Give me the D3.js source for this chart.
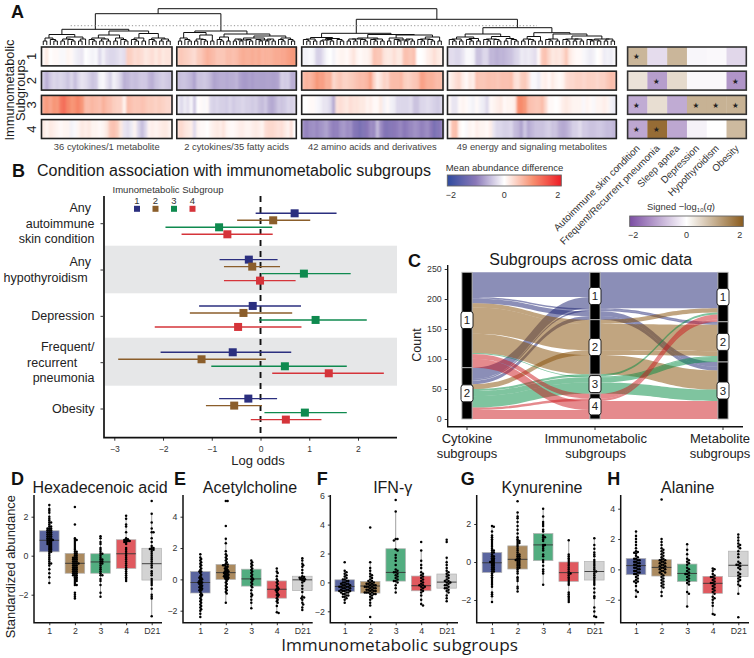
<!DOCTYPE html>
<html><head><meta charset="utf-8">
<script src="https://cdn.jsdelivr.net/npm/d3@7"></script>
<style>
html,body{margin:0;padding:0;background:#fff}
svg{display:block;font-family:"Liberation Sans",Arial,sans-serif}
text{fill:#222}
</style></head><body>
<svg id="c" width="754" height="658" viewBox="0 0 754 658"></svg>
<script>
/* ---------- DATA ---------- */
const blockLabels=["36 cytokines/1 metabolite","2 cytokines/35 fatty acids","42 amino acids and derivatives","49 energy and signaling metabolites"];
const subgroupIds=["1","2","3","4"];
const heatBlock1=[
[.05,.2,0,.05,.05,-.05,-.05,.1,.05,-.1,-.15,-.2,0,-.05,-.1,-.05,-.3,-.1,-.25,-.3,-.3,-.25,-.2,-.25,.45,.4,.3,.35,.3,.2,.25,.3,.2,.3,.2,.25,.25],
[-.4,-.6,-.4,-.3,-.35,-.3,-.35,-.45,-.3,-.5,-.3,-.2,-.25,-.35,-.45,-.4,-.1,-.05,-.2,-.35,-.1,-.2,-.35,-.6,-.55,-.45,-.5,-.45,-.4,-.4,-.55,-.6,-.45,-.4,-.35,-.4,-.45],
[.8,.9,.8,.95,.9,1.2,1.3,1.1,.95,1,1.1,.95,.6,.6,.65,.6,.55,.7,.6,.55,.45,.4,.4,.1,.6,.55,.5,.5,.55,.5,.45,.45,.4,.45,.4,.35,.35],
[.2,.1,.2,.15,.1,.05,.1,.1,-.1,-.05,.1,.2,.15,.2,.1,.1,.05,.1,.2,.5,.55,.45,.2,-.2,-.25,-.15,.1,-.3,-.5,-.3,.1,.15,.1,.15,.2,.2,.1]];
const heatBlock2=[
[.45,.5,.45,.4,.35,.3,.45,.5,.6,.7,.65,.6,.5,.5,.5,.6,.6,.55,.6,.7,.75,.7,.7,.75,.7,.75,.65,.7,.7,.7,.75,.75,.8,.8,.85,.9,.95],
[-.5,-.45,-.45,-.5,-.55,-.7,-.45,-.45,-.4,-.45,-.55,-.7,-.65,-.6,-.6,-.65,-.6,-.6,-.55,-.7,-.75,-.75,-.7,-.75,-.7,-.7,-.7,-.7,-.7,-.7,-.7,-.65,-.35,-.4,-.35,-.6,-.6],
[-.15,-.3,-.15,-.25,-.05,-.45,0,.05,-.05,.05,-.3,-.35,-.3,-.35,-.35,-.4,-.3,-.4,-.35,-.35,-.3,-.35,-.35,-.4,-.35,-.45,-.5,-.4,-.6,-.65,-.55,-.4,-.45,-.4,-.3,-.35,-.3],
[.3,.35,.25,.2,.15,-.3,.1,.05,.05,0,.1,.15,.2,.15,.25,.1,.05,.05,.1,.15,.15,.1,.1,.15,.2,.15,.1,.3,.35,.35,.3,.25,.3,.2,.1,.3,0]];
const heatBlock3=[
[-.1,-.1,-.05,-.1,-.35,-.35,-.2,-.05,0,-.1,.05,.1,.1,.05,.15,.25,.1,.05,.1,.1,.2,.55,.5,.5,.25,.2,.2,.3,.2,.2,.55,.55,.5,.55,0,0,.05,.15,.2,.3,.2,.15],
[.6,.7,.65,.75,.95,.85,.85,.7,.7,.35,.45,.5,.4,.4,.45,.5,.55,.6,.6,.65,.85,.4,.15,.25,.4,.35,.6,.6,.6,.65,.45,.4,.45,.5,.55,.85,.8,.7,.7,.65,.6,.6],
[0,0,.05,.05,-.05,-.1,-.2,-.2,-.3,-.65,.25,.3,.25,.2,.3,.25,.25,.2,.2,.1,.15,.05,.05,.2,-.1,.05,-.1,-.15,-.3,-.3,-.3,-.3,-.25,-.45,-.45,-.3,-.3,-.25,-.3,-.35,-.4,-.3],
[-.85,-.95,-.85,-.8,-.9,-.8,-.75,-.7,-.85,-.95,-.95,-.8,-.75,-.85,-.8,-1.05,-1.1,-1.2,-1.1,-1,-.85,-.9,-.5,-.85,-1.05,-1.1,-1.05,-1,-.95,-.9,-1,-.95,-.9,-.8,-.85,-.95,-.9,-.85,-1,-1.2,-1.1,-.95]];
const heatBlock4=[
[-.25,-.25,-.3,-.3,-.2,-.05,-.05,-.1,-.45,-.45,-.3,-.3,-.55,-.55,-.6,-.55,-.55,-.5,-.45,-.35,-.3,-.15,-.2,-.15,-.2,-.25,.05,.5,.55,.35,.2,.25,.2,.3,.5,.2,.1,.05,.05,-.05,-.1,-.15,-.1,0,.05,-.15,-.1,-.15,-.05],
[.1,.2,.3,.35,.15,.05,.2,.15,.55,.5,.5,.55,.55,.55,.5,.55,.55,.55,.6,.3,.25,.45,.5,.3,-.05,-.05,-.15,.1,.15,.05,.2,.1,.05,.1,.3,.35,.35,.4,.4,.35,.4,.4,.4,.35,.4,.4,.5,.6,.55],
[.05,-.2,-.2,.05,.1,.05,-.05,-.1,.05,-.1,-.15,-.3,.05,.1,.15,.2,.05,.1,.1,.15,1,1.05,.95,.6,.55,.5,.5,.6,.35,.05,.05,0,.05,.15,.2,.15,.1,.1,.1,-.05,.1,.05,-.05,.1,.1,.15,.1,-.1,-.15],
[.1,.55,.6,.1,0,-.05,.1,.05,.15,.1,.1,.05,.15,-.2,-.3,-.3,-.35,-.35,-.3,-.5,-.55,-.7,-.4,-.65,-.55,-.45,-.45,-.45,-.4,-.35,-.45,-.45,-.6,-.65,-.6,-.5,-.35,-.35,-.25,-.4,-.4,-.45,-.45,-.4,-.4,-.45,-.5,-.5,-.55]];
const conditionNames=["Autoimmune skin condition","Frequent/Recurrent pneumonia","Sleep apnea","Depression","Hypothyroidism","Obesity"];
const conditionValues=[[.9,-.4,.9,-.1,-.08,-.45],[.35,-1.1,.45,-.08,-.08,-1.2],[-.95,.4,-.95,.95,.95,.95],[-1,1.8,-1,-.15,0,.85]];
const conditionStars=[[1,0,0,0,0,0],[0,1,0,0,0,1],[1,0,0,1,1,1],[1,1,0,0,0,0]];

/* dendrogram merge heights: [height, left, right], 0 = leaf */
const pair=[4,0,0], tri=[5.5,0,pair], quad=[6,pair,pair];
const treeBlock1=[15.7,[10.5,[7,pair,tri],[8,[6,pair,tri],[6,pair,0]]],[14,[10,[7,tri,quad],[7,pair,tri]],[11.5,[7,tri,pair],[7,tri,quad]]]];
const treeBlock2=[14,[12.5,[7,pair,tri],[10,[6,pair,tri],pair]],[11,[8,tri,pair],[9,[7,[5,quad,tri],[5,tri,quad]],[7,tri,tri]]]];
const treeBlock3=[11.7,[7.5,[6,tri,pair],[6.5,[5,pair,tri],tri]],[10.5,[7,[6,quad,tri],[6,tri,pair]],[10,[7,pair,[5,tri,quad]],[8,[6,tri,tri],pair]]]];
const treeBlock4=[17.3,[11,[8,[6,tri,pair],[6.5,tri,pair]],[8.5,[6,tri,tri],[6.5,pair,tri]]],[12.3,[8.5,[6,pair,tri],pair],[11,[6,tri,pair],[9,[6,tri,quad],[6,[5,tri,pair],quad]]]]];
const treeHeights={root:36.3,left:31.3,right:25.7,cut:19.3};

/* forest plot */
const forestConditions=[["Any\u00a0","autoimmune","skin condition"],["Any\u00a0","hypothyroidism\u00a0\u00a0"],["Depression"],["Frequent/","recurrent\u00a0\u00a0\u00a0\u00a0\u00a0","pneumonia"],["Obesity"]];
const forestEstimate=[[.70,.26,-.85,-.68],[-.24,-.17,.89,-.01],[-.16,-.35,1.13,-.46],[-.57,-1.21,.50,1.40],[-.25,-.54,.91,.52]];
const forestLow=[[-.1,-.48,-1.95,-1.62],[-.84,-.75,.02,-.75],[-1.26,-1.45,-.03,-2.17],[-2.05,-2.92,-1.01,.24],[-.85,-1.12,.08,-.2]];
const forestHigh=[[1.56,1.02,.24,.25],[.35,.40,1.85,.72],[.83,.65,2.18,.84],[.63,.11,1.77,2.53],[.34,.03,1.77,1.25]];
const forestTicks=[-3,-2,-1,0,1,2];

/* alluvial */
const alluvCytokine=[1,2,1,2,1,2, 1,1,2,1, 2,1,2,2, 1,2,1,2];
const alluvImmuno  =[1,1,1,1,1,1, 2,2,2,2, 3,3,3,3, 4,4,4,4];
const alluvMetab   =[1,1,2,2,3,3, 1,2,2,3, 1,2,2,3, 1,1,3,3];
const alluvCount   =[41,19,2.5,2.5,8,6, 7,44,8,32, 3.5,1.5,8.5,19, 8,4,15,15];
const alluvAxisLabels=[["Cytokine","subgroups"],["Immunometabolic","subgroups"],["Metabolite","subgroups"]];
const alluvTicks=[0,50,100,150,200,250];

/* box plots: categories, [q1, median, q3, whiskerLow, whiskerHigh], points */
const boxCats=["1","2","3","4","D21"];
const hexaStats=[[.2,.79,1.28,-1.45,2.65],[-.9,-.39,.12,-1.55,.9],[-.9,-.32,.1,-2.15,1.05],[-.65,.1,.82,-1.33,2.08],[-1.25,-.41,.38,-3.13,2.17]];
const hexaPoints=[
[2.6,2.4,2.3,2.2,2,1.9,1.8,1.7,1.7,1.6,1.5,1.5,1.4,1.4,1.4,1.3,1.3,1.3,1.2,1.2,1.2,1.1,1.1,1.1,1,1,1,.9,.9,.9,.8,.8,.8,.8,.7,.7,.7,.6,.6,.6,.5,.5,.4,.4,.3,.3,.2,.2,.1,0,-.1,-.2,-.3,-.4,-.4,-.5,-.7,-.9,-1.1,-1.4],
[2.5,1.6,.9,.8,.8,.7,.6,.5,.4,.3,.2,.2,.1,.1,0,0,-.1,-.1,-.1,-.2,-.2,-.2,-.3,-.3,-.3,-.4,-.4,-.4,-.4,-.5,-.5,-.5,-.6,-.6,-.6,-.7,-.7,-.7,-.8,-.8,-.8,-.9,-.9,-.9,-1,-1,-1,-1.1,-1.1,-1.2,-1.2,-1.3,-1.3,-1.4,-1.5,-1.5,-1.9,-2,-2.1,-2.2],
[1,.9,.7,.6,.4,.3,.2,.1,.1,0,-.1,-.2,-.2,-.3,-.3,-.4,-.4,-.5,-.6,-.7,-.8,-.9,-1,-1,-1.2,-1.3,-1.5,-1.9,-2.1],
[2.05,1.9,1.6,1.5,1.2,.9,.85,.8,.8,.75,.75,.7,.7,.6,.4,.3,.2,.1,0,-.1,-.2,-.3,-.4,-.5,-.6,-.7,-.8,-.9,-1,-1.1,-1.2,-1.3],
[2.8,2.15,1.7,1.4,1.2,1.2,.9,.7,.5,.4,.4,.35,.3,.3,.2,.1,0,-.1,-.2,-.3,-.4,-.5,-.6,-.8,-.9,-1,-1.2,-1.3,-1.4,-1.5,-1.7,-2,-2.1,-2.2,-3.1]];
const acetylStats=[[-.87,-.2,.5,-2.4,1.65],[0,.43,.95,-1.5,2.6],[-.43,.03,.65,-1.85,1.2],[-1.2,-.63,-.1,-2.15,.7],[-.72,-.03,.2,-1.95,1.35]];
const acetylPoints=[
[1.6,1.4,1.3,1.2,1.1,1,.9,.8,.7,.6,.5,.5,.4,.3,.2,.1,.1,0,0,-.1,-.1,-.2,-.2,-.2,-.3,-.3,-.4,-.4,-.5,-.5,-.6,-.6,-.7,-.7,-.8,-.9,-1,-1,-1.1,-1.2,-1.3,-1.4,-1.5,-1.6,-1.7,-1.8,-1.9,-2,-2.2,-2.4],
[5,5,3.4,2.6,2.3,1.8,1.6,1.5,1.4,1.3,1.2,1.1,1,.95,.9,.9,.8,.8,.7,.7,.6,.6,.5,.5,.5,.4,.4,.4,.3,.3,.3,.2,.2,.2,.1,.1,.1,0,0,-.1,-.2,-.3,-.4,-.5,-.6,-.7,-.8,-.9,-1.5],
[1.2,1.1,1,.9,.8,.7,.6,.5,.4,.3,.2,.1,0,0,-.1,-.2,-.3,-.4,-.5,-.7,-.9,-1,-1.1,-1.3,-1.5,-1.85],
[.7,.5,.4,.2,0,-.1,-.2,-.3,-.4,-.5,-.6,-.6,-.7,-.7,-.8,-.9,-1,-1,-1.1,-1.2,-1.3,-1.4,-1.5,-1.7,-2.1,-2.15],
[1.35,1.2,1,.9,.8,.6,.4,.2,.15,.1,.1,.05,0,0,-.05,-.1,-.2,-.4,-.6,-.8,-1.1,-1.15,-1.2,-1.3,-1.5,-1.6,-1.8,-1.95]];
const ifnStats=[[-.62,-.28,.18,-1.4,.8],[-.74,-.25,.07,-1.6,1.4],[.09,.69,2.33,-.7,4.9],[-.58,-.23,.44,-1.6,2.2],[-.4,.02,.58,-1.3,1.7]];
const ifnPoints=[
[1.4,.8,.7,.6,.5,.4,.3,.2,.2,.1,.1,0,0,-.1,-.1,-.1,-.2,-.2,-.2,-.3,-.3,-.3,-.3,-.4,-.4,-.4,-.5,-.5,-.5,-.6,-.6,-.6,-.6,-.7,-.7,-.7,-.8,-.8,-.9,-.9,-1,-1,-1.1,-1.2,-1.4],
[3.8,1.4,1,.8,.6,.5,.4,.3,.2,.1,.1,0,0,-.1,-.1,-.1,-.2,-.2,-.2,-.3,-.3,-.3,-.3,-.4,-.4,-.4,-.5,-.5,-.5,-.6,-.6,-.6,-.7,-.7,-.7,-.7,-.8,-.8,-.8,-.9,-1,-1.1,-1.2,-1.4,-1.6,-2.4],
[5.7,4.9,3,3,2.9,2.3,2.2,1.9,1.7,1.5,1.2,.9,.8,.7,.7,.6,.5,.4,.3,.2,.1,.1,0,-.2,-.4,-.7],
[2.8,2.2,1.5,1.2,1,.7,.6,.5,.4,.3,.2,.1,0,-.1,-.2,-.2,-.3,-.3,-.4,-.5,-.6,-.7,-.9,-1.2,-1.5,-1.6],
[2.95,2.8,1.7,1.4,1.2,1,.8,.7,.6,.5,.4,.3,.2,.1,.1,0,0,-.1,-.2,-.2,-.3,-.4,-.4,-.5,-.6,-.7,-.9,-1.1,-1.3]];
const kynStats=[[-.55,-.04,.5,-2.1,1.93],[-.37,.14,.85,-1.57,2.55],[.07,.9,1.5,-1.17,2.8],[-1.02,-.56,0,-2.1,1.15],[-.95,-.5,.03,-2.9,1.25]];
const kynPoints=[
[1.9,1.85,1.6,1.4,1.3,1.2,1.1,1,.9,.8,.7,.6,.6,.5,.5,.4,.3,.3,.2,.2,.1,.1,0,0,0,-.1,-.1,-.2,-.2,-.3,-.3,-.4,-.4,-.5,-.5,-.6,-.7,-.8,-.9,-1,-1.1,-1.2,-1.3,-1.6,-1.7,-1.8,-2.1],
[3.2,2.6,2.4,2.3,2.1,1.9,1.7,1.5,1.3,1.2,1.1,1.1,1,1,.9,.8,.7,.6,.5,.4,.4,.3,.3,.2,.2,.1,.1,.1,0,0,-.1,-.1,-.2,-.2,-.3,-.3,-.4,-.5,-.6,-.8,-.9,-1,-1.3,-1.4,-1.55],
[2.8,2.4,2.1,2,1.9,1.7,1.6,1.4,1.3,1.3,1.2,1.1,.9,.9,.8,.7,.6,.4,.3,.1,0,-.2,-.4,-.5,-.6,-1.2],
[1.15,.4,.3,.2,.1,0,-.1,-.2,-.3,-.4,-.5,-.6,-.6,-.7,-.8,-.9,-1,-1.1,-1.2,-1.6,-1.7,-1.8,-1.9,-2,-2.1],
[1.25,.9,.7,.5,.4,.3,.1,0,-.1,-.2,-.3,-.4,-.5,-.5,-.6,-.7,-.8,-.9,-1,-1.1,-1.2,-1.4,-1.6,-1.8,-1.9,-2.4,-2.6,-2.85,-2.9]];
const alaStats=[[-.35,.25,.72,-1.8,2.5],[-.44,.13,.64,-1.76,2.02],[-.8,-.27,.35,-2.46,1.67],[-1.58,-.92,-.46,-3,.07],[-.48,.27,1.2,-1.6,2.33]];
const alaPoints=[
[2.5,2.2,2,1.8,1.6,1.4,1.2,1.15,1.1,1.05,.9,.8,.7,.7,.6,.6,.5,.5,.4,.4,.3,.3,.2,.2,.1,.1,0,0,-.1,-.1,-.2,-.2,-.3,-.3,-.4,-.5,-.6,-.7,-.8,-.8,-.9,-1.1,-1.4,-1.5,-1.8],
[4.6,2,1.8,1.6,1.4,1.3,1.2,1.1,1,.9,.8,.7,.65,.6,.6,.5,.5,.4,.4,.3,.3,.2,.2,.1,.1,0,0,-.1,-.1,-.2,-.2,-.3,-.4,-.5,-.6,-.7,-.8,-.9,-1,-1.1,-1.2,-1.5,-1.75],
[1.65,1.3,1,.7,.6,.5,.4,.3,.1,0,-.1,-.2,-.3,-.3,-.4,-.5,-.6,-.7,-.8,-.9,-1,-1.5,-1.6,-2.45],
[.05,0,-.1,-.3,-.4,-.5,-.5,-.6,-.7,-.8,-.9,-.9,-1,-1.1,-1.2,-1.3,-1.4,-1.5,-1.6,-1.8,-1.9,-2,-2.2,-2.4,-2.95,-3],
[2.3,2.1,1.9,1.7,1.6,1.5,1.4,1.2,1,.8,.5,.4,.3,.3,.2,.1,0,-.2,-.3,-.4,-.5,-.6,-.7,-.8,-1,-1.1,-1.6,-3.15]];

/* ---------- HELPERS ---------- */
const svg=d3.select("#c");
const FONT='"Liberation Sans",Arial,sans-serif';
function txt(x,y,s,size,opt={}){
  const t=svg.append("text").attr("x",x).attr("y",y).attr("font-size",size).text(s)
    .attr("text-anchor",opt.anchor||"start").style("fill",opt.fill||"#1a1a1a");
  if(opt.weight)t.attr("font-weight",opt.weight);
  if(opt.family)t.attr("font-family",opt.family);
  if(opt.rotate!=null)t.attr("transform",`rotate(${opt.rotate} ${x} ${y})`);
  return t;
}
const subgroupColor=["#2b2f7f","#8b5e2b","#0f8a4f","#d5343a"];

/* ---------- PANEL A ---------- */
svg.append("defs").append("filter").attr("id","soft").attr("x","-5%").attr("width","110%")
  .append("feGaussianBlur").attr("stdDeviation","0.9 0");
const heatColor=d3.scaleLinear().domain([-2,-1,0,1,2]).range(["#2f4b9f","#8a78b8","#ffffff","#f78f6f","#ee1c25"]).clamp(true);
const annotColor=d3.scaleLinear().domain([-2,0,2]).range(["#7b4ea3","#ffffff","#8a5c1e"]).clamp(true);
const rowY=d3.scaleBand().domain(subgroupIds).range([47,138.5]).paddingInner(.22);
const blockExtent=[[41.5,172],[176.8,296.3],[301.7,443],[447.5,616.3]];
const heatBlocks=[heatBlock1,heatBlock2,heatBlock3,heatBlock4];
const blockScales=heatBlocks.map((b,i)=>d3.scaleBand().domain(d3.range(b[0].length)).range(blockExtent[i]));
heatBlocks.forEach((block,bi)=>{
  const xs=blockScales[bi];
  block.forEach((row,ri)=>{
    const g=svg.append("g");
    g.append("g").attr("filter","url(#soft)").selectAll("rect").data(row).join("rect")
      .attr("x",(d,i)=>xs(i)).attr("y",rowY(subgroupIds[ri]))
      .attr("width",xs.bandwidth()+.4).attr("height",rowY.bandwidth())
      .attr("fill",d=>heatColor(d));
    g.append("rect").attr("x",blockExtent[bi][0]).attr("y",rowY(subgroupIds[ri]))
      .attr("width",blockExtent[bi][1]-blockExtent[bi][0]).attr("height",rowY.bandwidth())
      .attr("fill","none").attr("stroke","#222").attr("stroke-width",1.6);
  });
  txt(d3.mean(blockExtent[bi]),149.7,blockLabels[bi],9.4,{anchor:"middle",fill:"#444"});
});
/* dendrogram */
const hY=d3.scaleLinear().domain([0,treeHeights.root]).range([45,8.7]);
const dg=svg.append("g").attr("fill","none").attr("stroke","#111").attr("stroke-width",1);
function drawTree(node,xs,state){
  if(node===0){const i=state.i++;return {x:xs(i)+xs.bandwidth()/2,h:0};}
  const a=drawTree(node[1],xs,state),b=drawTree(node[2],xs,state);
  return joinNodes(node[0],a,b);
}
function joinNodes(h,a,b){
  dg.append("path").attr("d",`M${a.x},${hY(a.h)}V${hY(h)}H${b.x}V${hY(b.h)}`);
  return {x:(a.x+b.x)/2,h};
}
const tops=[treeBlock1,treeBlock2,treeBlock3,treeBlock4].map((t,i)=>drawTree(t,blockScales[i],{i:0}));
const nLeft=joinNodes(treeHeights.left,tops[0],tops[1]);
const nRight=joinNodes(treeHeights.right,tops[2],tops[3]);
joinNodes(treeHeights.root,nLeft,nRight);
svg.append("line").attr("x1",70.7).attr("x2",537).attr("y1",hY(treeHeights.cut)).attr("y2",hY(treeHeights.cut))
  .attr("stroke","#888").attr("stroke-width",.9).attr("stroke-dasharray","1.2,2.2");
/* annotation */
const annotX=d3.scaleBand().domain(conditionNames).range([627.6,746.3]);
conditionValues.forEach((row,ri)=>{
  const y=rowY(subgroupIds[ri]);
  svg.append("g").selectAll("rect").data(row).join("rect")
    .attr("x",(d,i)=>annotX(conditionNames[i])).attr("y",y)
    .attr("width",annotX.bandwidth()+.3).attr("height",rowY.bandwidth()).attr("fill",d=>annotColor(d));
  svg.append("rect").attr("x",627.6).attr("y",y).attr("width",118.7).attr("height",rowY.bandwidth())
    .attr("fill","none").attr("stroke","#333").attr("stroke-width",1.6);
  conditionStars[ri].forEach((s,i)=>{ if(s) txt(annotX(conditionNames[i])+annotX.bandwidth()/2-1,y+rowY.bandwidth()/2+3,"★",7.5,{anchor:"middle",family:"DejaVu Sans",fill:"#222"}); });
});
conditionNames.forEach(n=>{
  const x=annotX(n)+annotX.bandwidth()/2+3;
  txt(x,149,n,9.8,{anchor:"end",rotate:-45,fill:"#333"});
});
/* row titles */
txt(14,90,"Immunometabolic",12.8,{anchor:"middle",rotate:-90});
txt(25,90,"Subgroups",12.8,{anchor:"middle",rotate:-90});
subgroupIds.forEach(s=>txt(36,rowY(s)+rowY.bandwidth()/2,s,13,{anchor:"middle",rotate:-90}));
/* legends */
function gradLegend(id,color,x0,x1,y0,y1,tickY){
  const grad=svg.append("defs").append("linearGradient").attr("id",id);
  d3.range(-2,2.01,.25).forEach(v=>grad.append("stop").attr("offset",(v+2)/4).attr("stop-color",color(v)));
  svg.append("rect").attr("x",x0).attr("y",y0).attr("width",x1-x0).attr("height",y1-y0).attr("fill",`url(#${id})`).attr("stroke","#666").attr("stroke-width",.9);
  const s=d3.scaleLinear().domain([-2,2]).range([x0+3.5,x1-3.5]);
  [-2,0,2].forEach(v=>txt(s(v),tickY,v<0?"−2":String(v),9,{anchor:"middle",fill:"#333"}));
}
gradLegend("gH",heatColor,447.3,561.3,175,186,198);
gradLegend("gA",annotColor,629.7,743.3,216,226.5,238);
txt(504.5,171,"Mean abundance difference",9.5,{anchor:"middle",fill:"#333"});
const t2=txt(681,210,"Signed −log",9.4,{anchor:"middle",fill:"#333"});
t2.append("tspan").attr("font-size",6).attr("dy",2).text("10");
t2.append("tspan").attr("dy",-2).text("(");
t2.append("tspan").attr("font-style","italic").text("q");
t2.append("tspan").text(")");

/* ---------- PANEL B ---------- */
const fx=d3.scaleLinear().domain([-3,2]).range([114.3,358]);
const fy=d3.scalePoint().domain(d3.range(5)).range([223.7,409]);
const fInner=d3.scalePoint().domain(d3.range(4)).range([-10.4,10.6]);
svg.append("rect").attr("x",105).attr("y",245.7).attr("width",292).attr("height",47.6).attr("fill","#e6e7e8");
svg.append("rect").attr("x",105).attr("y",337.7).attr("width",292).attr("height",48).attr("fill","#e6e7e8");
svg.append("line").attr("x1",fx(0)).attr("x2",fx(0)).attr("y1",196).attr("y2",437).attr("stroke","#111").attr("stroke-width",1.9).attr("stroke-dasharray","6,5");
forestEstimate.forEach((row,c)=>{
  row.forEach((v,k)=>{
    const y=fy(c)+fInner(k);
    svg.append("line").attr("x1",fx(forestLow[c][k])).attr("x2",fx(forestHigh[c][k])).attr("y1",y).attr("y2",y)
      .attr("stroke",subgroupColor[k]).attr("stroke-width",1.4);
    svg.append("rect").attr("x",fx(v)-4).attr("y",y-4).attr("width",8).attr("height",8).attr("fill",subgroupColor[k]);
  });
  const lines=forestConditions[c];
  lines.forEach((l,i)=>txt(94.5,fy(c)+(i-(lines.length-1)/2)*15.3+4,l,12.5,{anchor:"end",fill:"#222"}));
});
const fAxis=svg.append("g").attr("transform","translate(0,437.7)").call(d3.axisBottom(fx).tickValues(forestTicks).tickFormat(d=>d<0?"−"+(-d):d).tickSize(3));
fAxis.select(".domain").remove();
fAxis.selectAll("text").attr("font-size",8.6).attr("font-family",FONT).attr("dy",".95em").style("fill","#333");
fAxis.selectAll("line").attr("stroke","#333");
svg.append("path").attr("d","M104,196V437.7H397").attr("fill","none").attr("stroke","#111").attr("stroke-width",1.7);
svg.append("g").selectAll("line").data(d3.range(5)).join("line").attr("x1",100.5).attr("x2",104).attr("y1",d=>fy(d)).attr("y2",d=>fy(d)).attr("stroke","#333");
txt(258,465,"Log odds",13,{anchor:"middle",fill:"#222"});
txt(37,176,"Condition association with immunometabolic subgroups",16,{});
txt(168,193,"Imunometabolic Subgroup",9.5,{anchor:"middle",fill:"#333"});
const legX=d3.scalePoint().domain(d3.range(4)).range([137,192.5]);
d3.range(4).forEach(k=>{
  txt(legX(k),203.5,String(k+1),9.5,{anchor:"middle",fill:"#333"});
  svg.append("rect").attr("x",legX(k)-3).attr("y",205.8).attr("width",6).attr("height",6).attr("fill",subgroupColor[k]);
});

/* ---------- PANEL C ---------- */
const ax=d3.scalePoint().domain([0,1,2]).range([467,723]);
const ay=d3.scaleLinear().domain([0,250]).range([419,269]);
const barW=10.2;
const total=d3.sum(alluvCount);
const idx=d3.range(alluvCount.length);
function stack(order){
  const sorted=idx.slice().sort(order);const top={};let acc=total;
  sorted.forEach(i=>{top[i]=[acc,acc-alluvCount[i]];acc-=alluvCount[i];});
  return top;
}
const cmp=(...ks)=>(a,b)=>{for(const k of ks){const d=k[a]-k[b];if(d)return d;}return 0;};
const stacks=[
  stack(cmp(alluvCytokine,alluvImmuno,alluvMetab)),
  stack(cmp(alluvImmuno,alluvMetab,alluvCytokine)),
  stack(cmp(alluvMetab,alluvImmuno,alluvCytokine))];
const flowCol=["#171d6f","#834b01","#00893f","#cb151b"];
const fg=svg.append("g");
idx.forEach(i=>{
  [0,1].forEach(s=>{
    const x0=ax(s)+barW/2,x1=ax(s+1)-barW/2,m=(x0+x1)/2;
    const [a,b]=stacks[s][i],[c,d]=stacks[s+1][i];
    fg.append("path").attr("d",`M${x0},${ay(a)}C${m},${ay(a)} ${m},${ay(c)} ${x1},${ay(c)}L${x1},${ay(d)}C${m},${ay(d)} ${m},${ay(b)} ${x0},${ay(b)}Z`)
      .attr("fill",flowCol[alluvImmuno[i]-1]).attr("fill-opacity",.5);
  });
});
[alluvCytokine,alluvImmuno,alluvMetab].forEach((grp,s)=>{
  const groups=Array.from(d3.group(idx,i=>grp[i]).keys()).sort(d3.ascending);
  let acc=total;
  const gg=svg.append("g");
  const labels=[];
  groups.forEach(g=>{
    const n=d3.sum(idx.filter(i=>grp[i]===g),i=>alluvCount[i]);
    gg.append("rect").attr("x",ax(s)-barW/2).attr("y",ay(acc)).attr("width",barW).attr("height",ay(acc-n)-ay(acc))
      .attr("fill","#000").attr("stroke","#b5b5b5").attr("stroke-width",.9);
    labels.push([g,acc-n/2]);acc-=n;
  });
  labels.forEach(([g,v])=>{
    gg.append("rect").attr("x",ax(s)-6).attr("y",ay(v)-8.5).attr("width",12).attr("height",17).attr("rx",2.5)
      .attr("fill","#fff").attr("stroke","#111").attr("stroke-width",.9);
    gg.append("text").attr("x",ax(s)).attr("y",ay(v)+4).attr("text-anchor","middle").attr("font-size",11.5).text(g);
  });
});
const cY=svg.append("g").attr("transform","translate(447.7,0)").call(d3.axisLeft(ay).tickValues(alluvTicks).tickSize(3));
cY.select(".domain").remove();
cY.selectAll("text").attr("font-size",8.8).attr("font-family",FONT).style("fill","#333");
cY.selectAll("line").attr("stroke","#333");
svg.append("path").attr("d","M447.7,265V426.7H743").attr("fill","none").attr("stroke","#111").attr("stroke-width",1.4);
const cxLabelX=[467,595.7,720];
alluvAxisLabels.forEach((lines,i)=>{
  svg.append("line").attr("x1",ax(i)).attr("x2",ax(i)).attr("y1",426.7).attr("y2",430).attr("stroke","#333");
  lines.forEach((l,j)=>txt(cxLabelX[i],443+j*15,l,13,{anchor:"middle",fill:"#222"}));
});
txt(421,345,"Count",12.6,{anchor:"middle",rotate:-90,fill:"#222"});
txt(590.7,265,"Subgroups across omic data",16,{anchor:"middle"});

/* ---------- PANELS D-H ---------- */
const boxFill=["#5a659f","#ab8a5f","#52ad80","#e0595f","#d3d3d3"];
function dodge(vals,y,d){
  const placed=[];
  return vals.slice().sort(d3.descending).map(v=>{
    const py=y(v);let off=0;
    for(let k=0;k<40;k++){
      const c=(k%2?1:-1)*Math.ceil(k/2)*d*.5;
      if(placed.every(p=>(p[0]-c)**2+(p[1]-py)**2>=d*d)){off=c;break;}
    }
    placed.push([off,py]);return {v,off};
  });
}
function boxPanel(cfg){
  const y=d3.scaleLinear().domain(cfg.yDomain).range(cfg.yRange);
  const x=d3.scalePoint().domain(boxCats).range(cfg.xRange);
  cfg.stats.forEach((st,i)=>{
    const cx=x(boxCats[i]);
    const g=svg.append("g");
    g.append("line").attr("x1",cx).attr("x2",cx).attr("y1",y(st[3])).attr("y2",y(st[4])).attr("stroke","#777").attr("stroke-width",.7);
    g.append("rect").attr("x",cx-9.8).attr("width",19.6).attr("y",y(st[2])).attr("height",y(st[0])-y(st[2]))
      .attr("fill",boxFill[i]).attr("stroke","#b3b3b3").attr("stroke-width",.7);
    g.append("line").attr("x1",cx-9.8).attr("x2",cx+9.8).attr("y1",y(st[1])).attr("y2",y(st[1])).attr("stroke","#333").attr("stroke-width",.9);
    g.append("g").selectAll("circle").data(dodge(cfg.points[i],y,1.8)).join("circle")
      .attr("cx",d=>cx+d.off).attr("cy",d=>y(d.v)).attr("r",1.25).attr("fill","#000");
  });
  const yAx=svg.append("g").attr("transform",`translate(${cfg.axisX},0)`)
    .call(d3.axisLeft(y).tickValues(cfg.ticks).tickFormat(d=>d<0?"−"+(-d):d).tickSize(2.5));
  yAx.select(".domain").remove();
  yAx.selectAll("text").attr("font-size",8.8).attr("font-family",FONT).style("fill","#333");
  yAx.selectAll("line").attr("stroke","#333");
  const xAx=svg.append("g").attr("transform","translate(0,622.7)").call(d3.axisBottom(x).tickSize(2.5));
  xAx.select(".domain").remove();
  xAx.selectAll("text").attr("font-size",8.8).attr("font-family",FONT).style("fill","#333");
  xAx.selectAll("line").attr("stroke","#333");
  svg.append("path").attr("d",`M${cfg.axisX},495V622.7H${cfg.right}`).attr("fill","none").attr("stroke","#111").attr("stroke-width",1.5);
  txt(cfg.titleX,493,cfg.title,16,{anchor:"middle"});
  txt(cfg.letterX,485,cfg.letter,18,{weight:"bold",fill:"#111"});
}
boxPanel({title:"Hexadecenoic acid",titleX:100,letter:"D",letterX:11,axisX:34,right:162,xRange:[49.3,151.7],yDomain:[2,-2],yRange:[516.7,594.7],ticks:[-2,0,2],stats:hexaStats,points:hexaPoints});
boxPanel({title:"Acetylcholine",titleX:250,letter:"E",letterX:174,axisX:183,right:312.7,xRange:[200.3,302.3],yDomain:[4,-2],yRange:[516.7,610.7],ticks:[-2,0,2,4],stats:acetylStats,points:acetylPoints});
boxPanel({title:"IFN-γ",titleX:392.7,letter:"F",letterX:316.7,axisX:330.3,right:458,xRange:[344.7,446.7],yDomain:[6,-2],yRange:[495.7,611.3],ticks:[-2,0,2,4,6],stats:ifnStats,points:ifnPoints});
boxPanel({title:"Kynurenine",titleX:542,letter:"G",letterX:460.7,axisX:476.7,right:604.3,xRange:[492,594.3],yDomain:[2,-2],yRange:[524,600],ticks:[-2,0,2],stats:kynStats,points:kynPoints});
boxPanel({title:"Alanine",titleX:687.7,letter:"H",letterX:607.3,axisX:620.7,right:749,xRange:[636,738.3],yDomain:[4,-2],yRange:[508.7,599.7],ticks:[-2,0,2,4],stats:alaStats,points:alaPoints});
txt(15,566.7,"Standardized abundance",12.9,{anchor:"middle",rotate:-90,fill:"#222"});
txt(399.5,650.5,"Immunometabolic subgroups",17.2,{anchor:"middle",family:"Open Sans"});
[["A",11,18],["B",12,176.7],["C",408,266.7]].forEach(([l,x,y])=>txt(x,y,l,18,{weight:"bold",fill:"#111"}));
</script>
</body></html>
